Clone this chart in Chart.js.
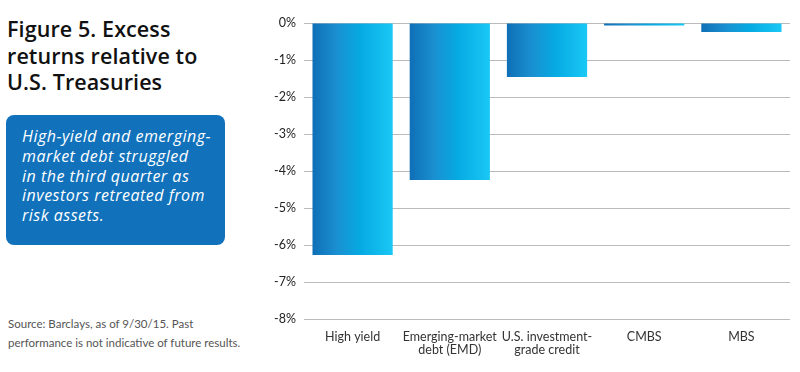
<!DOCTYPE html>
<html>
<head>
<meta charset="utf-8">
<script src="https://cdn.jsdelivr.net/npm/chart.js@4"></script>
<style>
  body { margin: 0; width: 800px; height: 372px; background: #fff; font-family: Lato, sans-serif; overflow: hidden; position: relative; }
  #title { position: absolute; left: 7px; top: 16px; font-family: 'Open Sans', sans-serif; font-size: 21.5px; font-weight: 600; line-height: 26.7px; color: #111; letter-spacing: 0.1px; }
  #box { position: absolute; left: 6px; top: 115px; width: 219px; height: 130px; background: #1172bb; border-radius: 8px; }
  #box p { margin: 0; position: absolute; left: 16px; top: 12px; color: #fff; font-family: 'Open Sans', sans-serif; font-style: italic; font-size: 16px; line-height: 19.8px; letter-spacing: 0.5px; }
  #source { position: absolute; left: 8px; top: 314px; font-size: 11.5px; line-height: 19px; color: #555; }
  #wrap { position: absolute; left: 258px; top: 0; width: 542px; height: 372px; }
</style>
</head>
<body>
<div id="title">Figure 5. Excess<br>returns relative to<br>U.S. Treasuries</div>
<div id="box"><p>High-yield and emerging-<br>market debt struggled<br>in the third quarter as<br>investors retreated from<br>risk assets.</p></div>
<div id="source">Source: Barclays, as of 9/30/15. Past<br>performance is not indicative of future results.</div>
<div id="wrap"><canvas id="grafico"></canvas></div>
<script>
// dados
const categorias = [['High yield'], ['Emerging-market', 'debt (EMD)'], ['U.S. investment-', 'grade credit'], ['CMBS'], ['MBS']];
const retornos = [-6.27, -4.24, -1.46, -0.07, -0.24];
const ticksY = [0, -1, -2, -3, -4, -5, -6, -7, -8];

const ctx = document.getElementById('grafico').getContext('2d');

// gradiente horizontal em cada barra
function corBarra(c) {
  const chart = c.chart;
  const x = chart.scales.x;
  if (!x || x.width == null || c.dataIndex == null) return '#0aa8e0';
  const centro = x.getPixelForValue(c.dataIndex);
  const larg = x.width / categorias.length * 0.825;
  const g = chart.ctx.createLinearGradient(centro - larg / 2, 0, centro + larg / 2, 0);
  g.addColorStop(0, '#0f6fb6');
  g.addColorStop(0.3, '#1a8fd0');
  g.addColorStop(0.6, '#06aae2');
  g.addColorStop(1, '#1ac8f5');
  return g;
}

const grafico = new Chart(ctx, {
  type: 'bar',
  data: {
    labels: categorias,
    datasets: [{
      data: retornos,
      backgroundColor: corBarra,
      borderWidth: 0,
      barPercentage: 0.917,
      categoryPercentage: 0.9
    }]
  },
  options: {
    responsive: true,
    maintainAspectRatio: false,
    animation: false,
    layout: { padding: { top: 23, right: 10, left: 0, bottom: 0 } },
    plugins: { legend: { display: false }, tooltip: { enabled: false } },
    scales: {
      x: {
        grid: { display: false },
        border: { display: false },
        ticks: { color: '#333', font: { family: 'Lato', size: 12.5, lineHeight: 1.05 }, padding: 3, maxRotation: 0 },
        afterFit: (s) => { s.height = 53; }
      },
      y: {
        min: -8,
        max: 0,
        afterFit: (s) => { s.width = 46; },
        afterBuildTicks: (s) => { s.ticks = ticksY.map(v => ({ value: v })); },
        border: { display: false },
        grid: { color: '#bbb', borderDash: [1, 2], drawTicks: false, lineWidth: 1 },
        ticks: {
          color: '#222',
          font: { family: 'Lato', size: 12.5 },
          padding: 8,
          callback: (v) => v + '%'
        }
      }
    }
  }
});
</script>
</body>
</html>
